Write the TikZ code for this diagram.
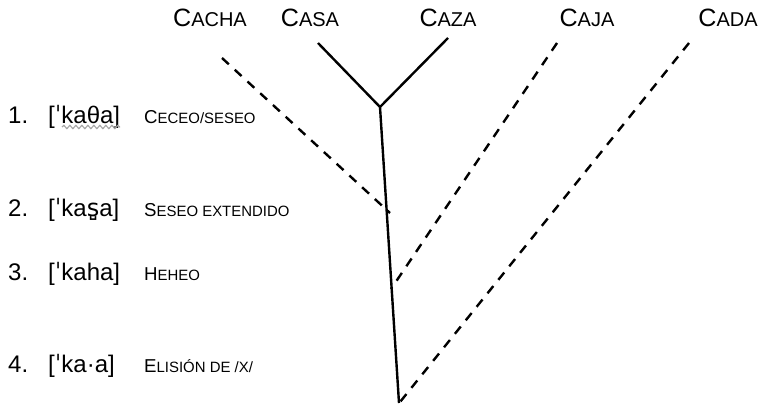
\documentclass[tikz,border=0pt]{standalone}
\usepackage{fontspec}
\setmainfont{Liberation Sans}
\newfontfamily\ipafont{DejaVu Sans}
\usetikzlibrary{decorations.pathmorphing}
% fake small caps: first letter full size, rest smaller
\newcommand\topsc[2]{{\fontsize{18.8}{21}\selectfont #1\fontsize{15}{17}\selectfont\MakeUppercase{#2}}}
\newcommand\rowsc[2]{{\fontsize{14}{16}\selectfont #1\fontsize{11.2}{13}\selectfont\MakeUppercase{#2}}}

\tikzset{every picture/.style={line width=1.8pt}}
\tikzset{
  branch/.style={line width=1.8pt, line cap=butt},
  dashbranch/.style={line width=1.8pt, dash pattern={on 7pt off 6pt}},
  rownum/.style={anchor=base west, inner sep=0pt, font=\fontsize{18}{20}\selectfont},
  ipa/.style={anchor=base west, inner sep=0pt, font=\fontsize{18}{20}\selectfont},
  toplabel/.style={anchor=base, inner sep=0pt},
  rowlabel/.style={anchor=base west, inner sep=0pt}
}

\begin{document}
\begin{tikzpicture}[x=0.75pt,y=0.75pt,yscale=-1,xscale=1]
\useasboundingbox (0,0) rectangle (759,406);

% Coordinates of the tree
\coordinate (root) at (380,107);
\coordinate (bottom) at (399,403);
\coordinate (casatop) at (318,43);
\coordinate (cazatop) at (448,38);
\coordinate (cachatop) at (222,58);
\coordinate (cachaend) at (390,213);
\coordinate (cajatop) at (557,43);
\coordinate (cajaend) at (391,289);
\coordinate (cadatop) at (689,43);
\coordinate (cadaend) at (400,402);

%Straight Lines
\draw [branch] (casatop) -- (root) -- (cazatop);
\draw [branch] (root) -- (bottom);
%Dashed Lines
\draw [dashbranch] (cachatop) -- (cachaend);
\draw [dashbranch] (cajatop) -- (cajaend);
\draw [dashbranch] (cadatop) -- (cadaend);

% Text Node
\node [toplabel] (cacha) at (210,27) {\topsc{C}{acha}};
\node [toplabel] (casa) at (310,27) {\topsc{C}{asa}};
\node [toplabel] (caza) at (448,27) {\topsc{C}{aza}};
\node [toplabel] (caja) at (587,27) {\topsc{C}{aja}};
\node [toplabel] (cada) at (728,27) {\topsc{C}{ada}};

% Rows
\node [rownum] (n1) at (7,123) {1.};
\node [ipa] (ipa1) at (47,123) {[\ipafont ˈ\rmfamily kaθa]};
\node [rowlabel] (l1) at (143,123) {\rowsc{C}{eceo/seseo}};

\node [rownum] (n2) at (7,216) {2.};
\node [ipa] (ipa2) at (47,216) {[\ipafont ˈ\rmfamily ka{\ipafont s̺}a]};
\node [rowlabel] (l2) at (143,216) {\rowsc{S}{eseo extendido}};

\node [rownum] (n3) at (7,280) {3.};
\node [ipa] (ipa3) at (47,280) {[\ipafont ˈ\rmfamily kaha]};
\node [rowlabel] (l3) at (143,280) {\rowsc{H}{eheo}};

\node [rownum] (n4) at (7,372) {4.};
\node [ipa] (ipa4) at (47,372) {[\ipafont ˈ\rmfamily ka·a]};
\node [rowlabel] (l4) at (143,372) {\rowsc{E}{lisión de /x/}};

% spell-check squiggle
\draw [gray!70, line width=0.9pt, decorate, decoration={snake, amplitude=1.2pt, segment length=4.5pt}] (62,127) -- (120,127);
\end{tikzpicture}
\end{document}
